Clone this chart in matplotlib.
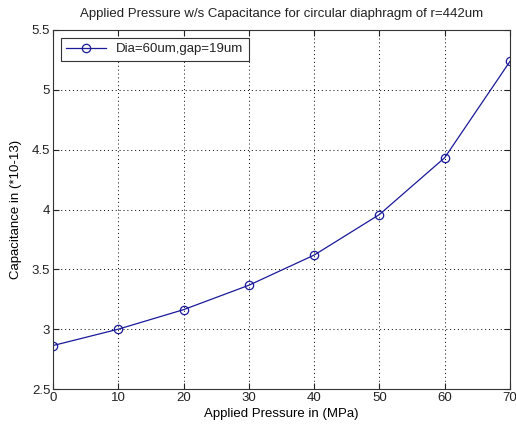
import matplotlib
matplotlib.use('Agg')
import matplotlib.pyplot as plt

# values
pressure = [0, 10, 20, 30, 40, 50, 60, 70]
capacitance = [2.863, 3.0, 3.163, 3.367, 3.619, 3.958, 4.433, 5.238]
x_ticks = [0, 10, 20, 30, 40, 50, 60, 70]
y_ticks = [2.5, 3, 3.5, 4, 4.5, 5, 5.5]
y_labels = ['2.5', '3', '3.5', '4', '4.5', '5', '5.5']

plt.rcParams['font.family'] = ['Liberation Sans', 'DejaVu Sans']
plt.rcParams['font.size'] = 9.5
plt.rcParams['text.color'] = '#222222'

fig = plt.figure(figsize=(5.16, 4.32), dpi=100)
ax = fig.add_axes([53 / 516, 43 / 432, 457 / 516, 359 / 432])

ax.plot(pressure, capacitance, color='#1a1a9a', linewidth=0.9,
        marker='o', markersize=6, markerfacecolor='none',
        markeredgecolor='#1a1a9a', markeredgewidth=0.9,
        label='Dia=60um,gap=19um')

ax.set_xlim(0, 70)
ax.set_ylim(2.5, 5.5)
ax.set_xticks(x_ticks)
ax.set_yticks(y_ticks)
ax.set_yticklabels(y_labels)
ax.grid(True, linestyle=(0, (1, 3)), color='black', linewidth=0.7)
ax.tick_params(direction='in', top=True, right=True, length=4, pad=2,
               colors='#222222', labelcolor='#222222')
for s in ax.spines.values():
    s.set_color('#333333')
    s.set_linewidth(0.8)

ax.set_title('Applied Pressure w/s Capacitance for circular diaphragm of r=442um',
             fontsize=9.5, pad=9)
ax.set_xlabel('Applied Pressure in (MPa)', labelpad=3)
ax.set_ylabel('Capacitance in (*10-13)', labelpad=7)

leg = ax.legend(loc='upper left', fancybox=False, framealpha=1,
                edgecolor='#333333', borderaxespad=0.6, handlelength=3,
                borderpad=0.4, fontsize=9.5)
leg.get_frame().set_linewidth(0.8)

fig.savefig('out.png', dpi=100, facecolor='white')
